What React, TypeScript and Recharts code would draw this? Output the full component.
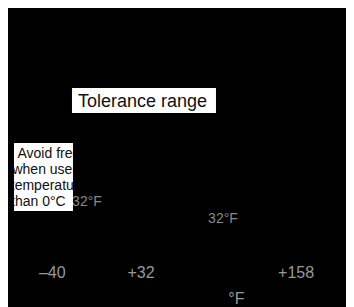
import React from "react";
import { ComposedChart, XAxis, YAxis, ReferenceLine, Scatter } from "recharts";

const ticksF = [-40, 32, 158];
const domainF = [-76, 205];
const freezeF = 32;
const toleranceLabel = "Tolerance range";
const freezeNote = ["Avoid freezing", "when used at", "temperatures", "than 0°C"];
const freezeLabel = "32°F";
const unitLabel = "°F";

const data = ticksF.map((f) => ({ f, y: 0 }));

const FONT = "'Liberation Sans', Arial, Helvetica, sans-serif";

const Tick = (props: any) => {
  const { x, y, payload } = props;
  const v = payload.value;
  const label = v < 0 ? "\u2013" + Math.abs(v) : "+" + v;
  return (
    <text x={x} y={y} dy={13} textAnchor="middle" fill="#999" fontSize={16} fontFamily={FONT}>
      {label}
    </text>
  );
};

const UnitLabel = (props: any) => {
  const vb = props.viewBox || {};
  return (
    <text x={vb.x + vb.width * 0.66} y={304} textAnchor="middle" fill="#999" fontSize={16} fontFamily={FONT}>
      {unitLabel}
    </text>
  );
};

const FreezeLabels = (props: any) => {
  const cx = props.viewBox.x;
  const lineX = [cx - 123.5, cx - 128.5, cx - 130.2, cx - 129.9];
  return (
    <g fontFamily={FONT}>
      <defs>
        <clipPath id="noteClip">
          <rect x={cx - 127} y={143} width={59} height={68} />
        </clipPath>
      </defs>
      <text x={cx - 54} y={206} textAnchor="middle" fill="#888" fontSize={14}>
        {freezeLabel}
      </text>
      <text x={cx + 82} y={223} textAnchor="middle" fill="#888" fontSize={14}>
        {freezeLabel}
      </text>
      <rect x={cx - 69} y={88} width={144} height={25} fill="#fff" />
      <text x={cx + 1.5} y={107} textAnchor="middle" fill="#111" fontSize={18}>
        {toleranceLabel}
      </text>
      <rect x={cx - 127} y={143} width={59} height={68} fill="#fff" />
      <g clipPath="url(#noteClip)">
        {freezeNote.map((line, i) => (
          <text key={i} x={lineX[i]} y={158 + i * 16} fill="#111" fontSize={14}>
            {line}
          </text>
        ))}
      </g>
    </g>
  );
};

export default function App() {
  return (
    <div style={{ marginTop: -8, width: 346, height: 307, background: "#000" }}>
      <ComposedChart width={346} height={307} data={data} margin={{ top: 0, right: 0, bottom: 0, left: 0 }}>
        <XAxis
          type="number"
          dataKey="f"
          domain={domainF}
          ticks={ticksF}
          allowDataOverflow
          axisLine={false}
          tickLine={false}
          height={50}
          tick={<Tick />}
          label={<UnitLabel />}
        />
        <YAxis hide domain={[0, 1]} dataKey="y" />
        <Scatter dataKey="y" fill="#000" shape={() => null} isAnimationActive={false} />
        <ReferenceLine x={freezeF} stroke="none" label={<FreezeLabels />} />
      </ComposedChart>
    </div>
  );
}
